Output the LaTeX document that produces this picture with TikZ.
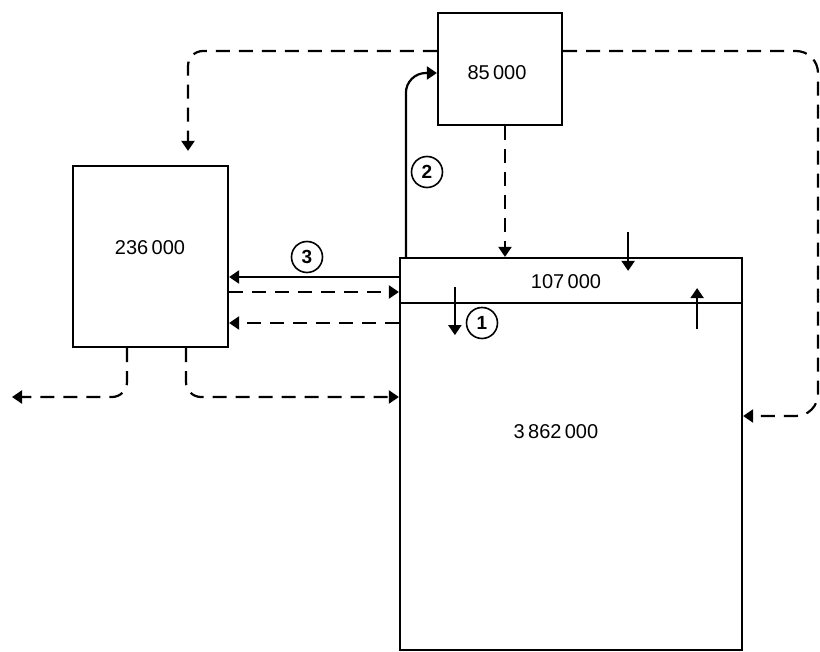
\documentclass[tikz,border=0pt]{standalone}
\usepackage{fontspec}
\setmainfont{Liberation Sans}
\usetikzlibrary{arrows.meta}
\begin{document}
\begin{tikzpicture}[x=1pt,y=-1pt,line width=2.2pt,
  >={Triangle[length=10pt,width=13pt]},
  box/.style={draw,inner sep=0pt},
  flow/.style={dash pattern=on 14pt off 9pt},
  num/.style={draw,circle,line width=1.6pt,minimum size=31pt,inner sep=0pt,font=\fontsize{19}{21}\selectfont\bfseries},
  every node/.style={font=\fontsize{20}{22}\selectfont}]
\useasboundingbox (0,0) rectangle (820,652);
\node[box,minimum width=124pt,minimum height=112pt] (top) at (500,69) {};
\node[box,minimum width=155pt,minimum height=181pt] (src) at (150.5,256.5) {};
\node[box,minimum width=342pt,minimum height=45pt] (surf) at (571,280.5) {};
\node[box,minimum width=342pt,minimum height=347pt] (deep) at (571,476.5) {};
\node at (497,73) {85\,000};
\node at (150,248) {236\,000};
\node at (566,282) {107\,000};
\node at (556,432) {3\,862\,000};
\node[num] (n1) at (482,323) {1};
\node[num] (n2) at (427,172) {2};
\node[num] (n3) at (307,257) {3};
\coordinate (out) at (12,397);
\coordinate (turn) at (818,416);
% solid flows
\draw[->,rounded corners=20pt] ([xshift=7pt]surf.north west) |- ([yshift=-4pt]top.west);
\draw[->] ([yshift=3.5pt]surf.west) -- ([yshift=3.5pt]surf.west -| src.east);
\draw[->] ([xshift=-115pt,yshift=25pt]surf.north east) -- ([xshift=-115pt,yshift=-14pt]surf.north east);
\draw[->] ([xshift=-46pt,yshift=-25pt]surf.south east) -- ([xshift=-46pt,yshift=16pt]surf.south east);
\draw[->] ([xshift=56pt,yshift=17pt]surf.south west) -- ([xshift=56pt,yshift=-31pt]surf.south west);
% dashed flows
\draw[flow,->,rounded corners=15pt] ([yshift=18pt]top.west) -| ([xshift=37.5pt,yshift=14pt]src.north);
\draw[flow,->,rounded corners=22pt] ([yshift=18pt]top.east) -| (turn) -- ([yshift=60.5pt]deep.east);
\draw[flow,->] ([xshift=5pt]top.south) -- ([xshift=5pt]top.south |- surf.north);
\draw[flow,->] ([yshift=-11.5pt]surf.west -| src.east) -- ([yshift=-11.5pt]surf.west);
\draw[flow,->] ([yshift=-66.5pt]src.east -| deep.west) -- ([yshift=-66.5pt]src.east);
\draw[flow,->,rounded corners=15pt] ([xshift=-23.5pt]src.south) |- (out);
\draw[flow,->,rounded corners=15pt] ([xshift=35.5pt]src.south) |- ([yshift=79.5pt]deep.west);
\end{tikzpicture}
\end{document}
